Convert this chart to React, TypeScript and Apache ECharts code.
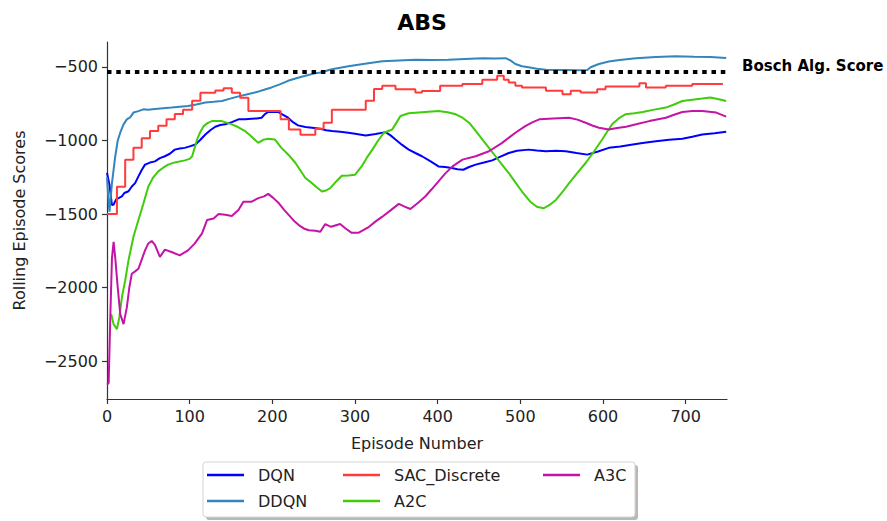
import React, { useEffect, useRef } from "react";
import * as echarts from "echarts";

const X_TICKS = [0, 100, 200, 300, 400, 500, 600, 700];
const Y_TICKS = [-2500, -2000, -1500, -1000, -500];
const BOSCH_SCORE = -535;

const DQN: [number, number][] = [
  [0, -1220], [3, -1300], [6, -1440], [8, -1435], [11, -1400], [14, -1392], [18, -1380], [21, -1357], [26, -1345], [30, -1313],
  [34, -1290], [38, -1244], [42, -1200], [46, -1164], [52, -1150], [58, -1142], [64, -1120], [70, -1107], [76, -1090], [82, -1062],
  [88, -1055], [94, -1050], [100, -1040], [107, -1027], [113, -995], [119, -959], [125, -930], [131, -906], [137, -895], [143, -890],
  [151, -875], [159, -856], [167, -855], [175, -852], [181, -850], [187, -845], [191, -820], [195, -806], [201, -805], [207, -806],
  [213, -825], [219, -845], [225, -875], [231, -897], [240, -908], [248, -913], [258, -920], [265, -930], [272, -936], [282, -940],
  [292, -947], [302, -955], [313, -966], [325, -955], [337, -943], [343, -965], [349, -993], [357, -1030], [365, -1062], [373, -1085],
  [381, -1107], [391, -1140], [401, -1176], [409, -1180], [417, -1187], [424, -1195], [431, -1199], [438, -1180], [446, -1164], [456, -1150],
  [466, -1135], [476, -1110], [486, -1085], [496, -1070], [510, -1062], [520, -1068], [531, -1073], [543, -1070], [555, -1073], [568, -1085],
  [581, -1096], [594, -1075], [607, -1050], [621, -1040], [636, -1027], [650, -1015], [664, -1005], [680, -995], [696, -988], [708, -975],
  [720, -959], [735, -950], [749, -941],
];

const DDQN: [number, number][] = [
  [0, -1250], [2, -1420], [3, -1484], [6, -1290], [10, -1107], [13, -1000], [16, -947], [20, -890], [24, -856], [28, -843],
  [32, -810], [38, -800], [44, -788], [50, -790], [58, -785], [68, -780], [78, -776], [88, -770], [98, -765], [108, -755],
  [119, -742], [129, -737], [139, -731], [149, -715], [159, -700], [170, -685], [182, -669], [190, -655], [199, -639], [209, -618],
  [219, -594], [230, -575], [240, -560], [250, -545], [258, -537], [272, -515], [292, -495], [312, -478], [333, -461], [353, -455],
  [373, -450], [393, -452], [413, -450], [433, -445], [454, -440], [470, -442], [482, -440], [488, -455], [494, -480], [502, -495],
  [510, -502], [520, -512], [531, -518], [543, -520], [555, -520], [568, -522], [581, -520], [585, -502], [595, -480], [607, -463],
  [620, -452], [640, -440], [664, -432], [688, -427], [710, -430], [730, -432], [749, -438],
];

const SAC_DISCRETE: [number, number][] = [
  [0, -1500], [12, -1315], [22, -1130], [32, -1050], [42, -985], [52, -935], [62, -900], [72, -855], [82, -820], [92, -790],
  [103, -730], [113, -675], [131, -660], [141, -645], [151, -675], [161, -710], [171, -800], [210, -855], [220, -925], [234, -960],
  [252, -920], [262, -880], [272, -790], [313, -730], [323, -650], [333, -628], [349, -651], [373, -674], [381, -663], [403, -628],
  [430, -616], [454, -587], [472, -559], [480, -587], [486, -605], [494, -628], [502, -639], [531, -662], [551, -685], [561, -662],
  [573, -674], [593, -651], [603, -632], [644, -610], [652, -639], [676, -628], [708, -616], [745, -616],
];

const A2C: [number, number][] = [
  [5, -2180], [8, -2250], [12, -2283], [15, -2200], [18, -2066], [22, -1952], [26, -1815], [32, -1655], [38, -1541], [44, -1430],
  [50, -1313], [56, -1250], [62, -1210], [68, -1185], [74, -1164], [82, -1149], [94, -1135], [100, -1125], [103, -1107], [106, -1050],
  [109, -993], [113, -940], [117, -902], [122, -880], [127, -868], [139, -868], [151, -890], [159, -910], [167, -936], [175, -975],
  [183, -1016], [189, -995], [195, -988], [203, -993], [211, -1050], [220, -1100], [228, -1153], [240, -1255], [248, -1290], [254, -1320],
  [260, -1347], [265, -1340], [270, -1324], [277, -1280], [284, -1240], [292, -1238], [300, -1233], [308, -1176], [314, -1120], [321, -1062],
  [328, -1000], [335, -947], [345, -925], [350, -880], [355, -833], [365, -815], [385, -806], [401, -799], [412, -808], [422, -822],
  [430, -845], [438, -879], [446, -935], [454, -993], [462, -1050], [470, -1107], [478, -1165], [486, -1221], [494, -1285], [502, -1347],
  [512, -1416], [520, -1450], [528, -1461], [535, -1440], [543, -1404], [551, -1350], [559, -1290], [569, -1220], [579, -1153], [589, -1075],
  [599, -993], [605, -940], [611, -890], [619, -850], [627, -822], [638, -815], [648, -806], [662, -790], [676, -776], [686, -755],
  [696, -731], [708, -722], [720, -715], [730, -708], [740, -720], [749, -731],
];

const A3C: [number, number][] = [
  [0, -2660], [2, -2649], [4, -2200], [6, -1800], [8, -1690], [10, -1800], [13, -2000], [16, -2180], [20, -2249], [24, -2135],
  [27, -2000], [30, -1906], [34, -1890], [38, -1872], [42, -1810], [46, -1747], [50, -1700], [54, -1683], [58, -1710], [64, -1792],
  [70, -1742], [78, -1758], [88, -1781], [98, -1747], [106, -1701], [115, -1632], [121, -1541], [129, -1530], [135, -1500], [143, -1505],
  [151, -1514], [159, -1473], [165, -1416], [175, -1416], [183, -1392], [190, -1380], [195, -1363], [201, -1390], [208, -1427], [214, -1470],
  [220, -1507], [226, -1545], [232, -1575], [238, -1598], [244, -1610], [252, -1614], [258, -1621], [264, -1568], [271, -1587], [282, -1568],
  [289, -1600], [296, -1628], [304, -1628], [310, -1610], [317, -1587], [325, -1550], [333, -1518], [343, -1475], [353, -1431], [360, -1450],
  [367, -1466], [376, -1425], [385, -1381], [393, -1330], [401, -1278], [409, -1225], [418, -1176], [430, -1130], [446, -1107], [462, -1073],
  [478, -1016], [494, -947], [506, -902], [515, -875], [523, -856], [540, -850], [559, -845], [569, -858], [579, -879], [587, -898],
  [595, -913], [607, -925], [617, -915], [628, -906], [640, -890], [656, -868], [676, -845], [686, -825], [696, -806], [708, -800],
  [720, -799], [737, -810], [749, -838],
];

const FONT = "DejaVu Sans";
const minus = (v: number) => String(v).replace("-", "\u2212");

const SERIES = [
  { name: "DQN", data: DQN, color: "#0000ff", step: false },
  { name: "DDQN", data: DDQN, color: "#3286bd", step: false },
  { name: "SAC_Discrete", data: SAC_DISCRETE, color: "#ff3b3b", step: true },
  { name: "A2C", data: A2C, color: "#3fcc0a", step: false },
  { name: "A3C", data: A3C, color: "#c414a6", step: false },
];

const LEGEND_POS: Record<string, [number, number]> = {
  DQN: [207, 466],
  DDQN: [207, 492],
  SAC_Discrete: [343, 466],
  A2C: [343, 492],
  A3C: [543, 466],
};

export default function App() {
  const ref = useRef<HTMLDivElement>(null);
  useEffect(() => {
    if (!ref.current) return;
    const chart = echarts.init(ref.current, undefined, { renderer: "svg" });
    const option: any = {
      animation: false,
      backgroundColor: "#ffffff",
      title: {
        text: "ABS",
        left: 417,
        top: 6,
        textAlign: "center",
        textStyle: { fontFamily: FONT, fontWeight: "bold", fontSize: 22, color: "#000" },
      },
      grid: { left: 107, right: 160, top: 42, bottom: 122 },
      xAxis: {
        type: "value",
        min: 0,
        max: 750,
        name: "Episode Number",
        nameLocation: "middle",
        nameGap: 36,
        nameTextStyle: { fontFamily: FONT, fontSize: 16, color: "#222" },
        splitLine: { show: false },
        axisLine: { lineStyle: { color: "#333", width: 1.2 } },
        axisTick: { show: true, length: 5, customValues: X_TICKS, lineStyle: { color: "#333", width: 1.2 } },
        axisLabel: { customValues: X_TICKS, fontFamily: FONT, fontSize: 16, color: "#222", margin: 9 },
      },
      yAxis: {
        type: "value",
        min: -2758,
        max: -330,
        name: "Rolling Episode Scores",
        nameLocation: "middle",
        nameGap: 80,
        nameTextStyle: { fontFamily: FONT, fontSize: 16, color: "#222" },
        splitLine: { show: false },
        axisLine: { show: true, lineStyle: { color: "#333", width: 1.2 } },
        axisTick: { show: true, length: 5, customValues: Y_TICKS, lineStyle: { color: "#333", width: 1.2 } },
        axisLabel: {
          customValues: Y_TICKS,
          fontFamily: FONT,
          fontSize: 16,
          color: "#222",
          margin: 9,
          formatter: (v: number) => minus(v),
        },
      },
      legend: SERIES.map((s) => ({
        data: [s.name],
        left: LEGEND_POS[s.name][0],
        top: LEGEND_POS[s.name][1],
        padding: 0,
        icon: "rect",
        itemWidth: 37,
        itemHeight: 2.5,
        z: 10,
        textStyle: { fontFamily: FONT, fontSize: 16, color: "#222", lineHeight: 18, padding: [0, 0, 0, 9] },
      })),
      graphic: [
        { type: "rect", z: 1, shape: { x: 206, y: 465, width: 432, height: 55, r: 3 }, style: { fill: "#b8b8b8" } },
        { type: "rect", z: 2, shape: { x: 203, y: 462, width: 432, height: 55, r: 3 }, style: { fill: "#ffffff", stroke: "#d4d4d4", lineWidth: 1 } },
      ],
      series: [
        ...SERIES.map((s) => ({
          type: "line",
          name: s.name,
          data: s.data,
          step: s.step ? "end" : false,
          showSymbol: false,
          symbol: "none",
          color: s.color,
          lineStyle: { color: s.color, width: 2 },
          z: 3,
        })),
        {
          type: "line",
          name: "Bosch",
          data: [],
          markLine: {
            silent: true,
            symbol: ["none", "none"],
            label: { show: false },
            lineStyle: { color: "#000", width: 4, type: [4.5, 4.8], cap: "butt" },
            data: [{ yAxis: BOSCH_SCORE }],
          },
        },
      ],
    };
    chart.setOption(option);
    const p = chart.convertToPixel({ gridIndex: 0 }, [750, BOSCH_SCORE]) as number[];
    chart.setOption({
      graphic: [
        { type: "rect", z: 1, shape: { x: 206, y: 465, width: 432, height: 55, r: 3 }, style: { fill: "#b8b8b8" } },
        { type: "rect", z: 2, shape: { x: 203, y: 462, width: 432, height: 55, r: 3 }, style: { fill: "#ffffff", stroke: "#d4d4d4", lineWidth: 1 } },
        {
          type: "text",
          x: p[0] + 15,
          y: p[1] - 6,
          style: { text: "Bosch Alg. Score", fontFamily: FONT, fontSize: 15, fontWeight: "bold", fill: "#000", verticalAlign: "middle", align: "left" },
        },
      ],
    });
    return () => chart.dispose();
  }, []);
  return <div ref={ref} style={{ width: 887, height: 521, position: "absolute", left: 0, top: 0 }} />;
}
